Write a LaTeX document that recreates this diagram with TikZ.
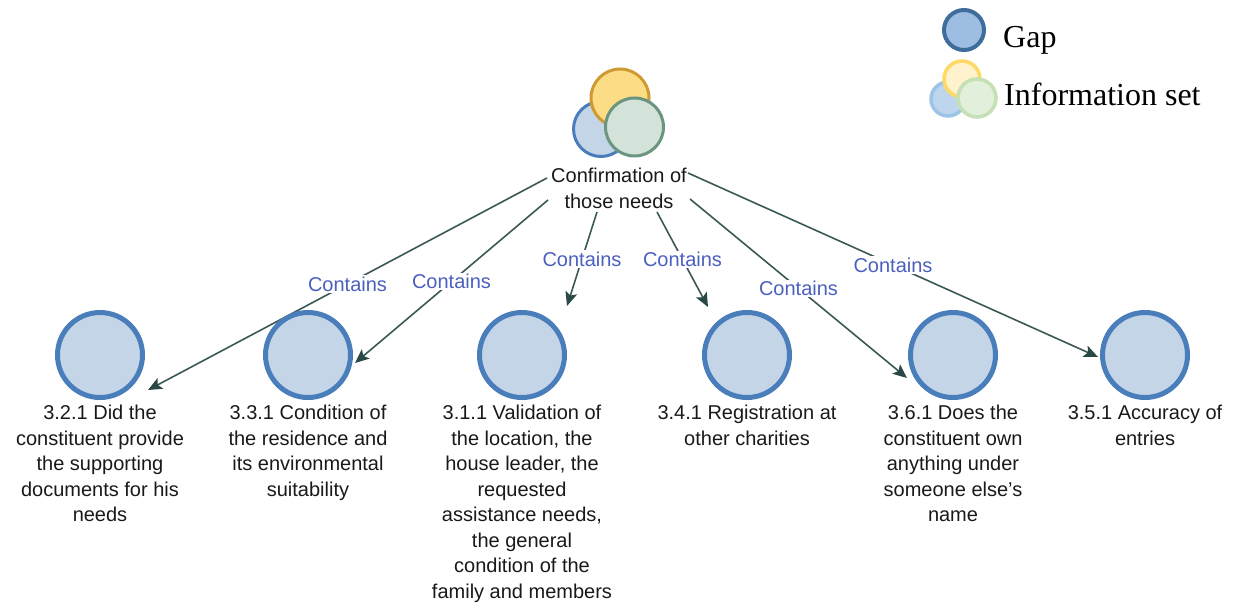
\documentclass[tikz,border=0pt]{standalone}
\usepackage{fontspec}
\setmainfont{Liberation Serif}
\newfontfamily\labfont{Liberation Sans}
\usetikzlibrary{arrows.meta}
\definecolor{gapfill}{HTML}{C5D5E8}
\definecolor{gapline}{HTML}{4A7EBB}
\definecolor{edgecol}{HTML}{3A5956}
\definecolor{tipcol}{HTML}{2A4845}
\definecolor{lblblue}{HTML}{4B60BE}
\definecolor{yelfill}{HTML}{FCDD86}
\definecolor{yelline}{HTML}{D09A32}
\definecolor{grnfill}{HTML}{D4E3DA}
\definecolor{grnline}{HTML}{6B9580}
\definecolor{lgapfill}{HTML}{9DBDE2}
\definecolor{lgapline}{HTML}{3E6D9C}
\definecolor{lbfill}{HTML}{BDD6EE}
\definecolor{lbline}{HTML}{9DC3E6}
\definecolor{lyfill}{HTML}{FFF2CC}
\definecolor{lyline}{HTML}{FFD966}
\definecolor{lgfill}{HTML}{E2EFDA}
\definecolor{lgline}{HTML}{C5E0B4}
\tikzset{
  gapnode/.style={circle, draw=gapline, fill=gapfill, line width=5pt, minimum size=85pt, inner sep=0pt},
  txt/.style={font=\labfont\fontsize{20}{25.5}\selectfont, align=center, inner sep=0pt, text=black!90},
  edge/.style={draw=edgecol, line width=1.6pt, -{Stealth[length=14pt,width=12pt,inset=3pt,color=tipcol]}},
  lbl/.style={font=\labfont\fontsize{20}{24}\selectfont, text=lblblue, fill=white, inner sep=1.5pt, midway},
  legtxt/.style={font=\fontsize{32}{36}\selectfont, anchor=west, inner sep=0pt}
}
\begin{document}
\begin{tikzpicture}[x=1pt,y=-1pt]
\useasboundingbox (0,0) rectangle (1238,604);
% start and tip coordinates
\coordinate (s1) at (547,178); \coordinate (t1) at (148,390);
\coordinate (s2) at (548,200); \coordinate (t2) at (355,363);
\coordinate (s3) at (597,212); \coordinate (t3) at (567,306);
\coordinate (s4) at (657,212); \coordinate (t4) at (708,307);
\coordinate (s5) at (690,199); \coordinate (t5) at (907,378);
\coordinate (s6) at (688,173); \coordinate (t6) at (1098,357);
% edges
\draw[edge] (s1) -- node[lbl] {Contains} (t1);
\draw[edge] (s2) -- node[lbl] {Contains} (t2);
\draw[edge] (s3) -- node[lbl] {Contains} (t3);
\draw[edge] (s4) -- node[lbl] {Contains} (t4);
\draw[edge] (s5) -- node[lbl] {Contains} (t5);
\draw[edge] (s6) -- node[lbl] {Contains} (t6);
% top information set
\node[circle, draw=gapline, fill=gapfill, line width=3pt, minimum size=55pt, inner sep=0pt] (ib) at (601,129) {};
\node[circle, draw=yelline, fill=yelfill, line width=3pt, minimum size=58pt, inner sep=0pt] (iy) at (620,98) {};
\node[circle, draw=grnline, fill=grnfill, line width=3pt, minimum size=58pt, inner sep=0pt] (ig) at (634.5,127) {};
\node[txt, anchor=north] (conf) at (619,168) {Confirmation of\\those needs};
% gaps
\node[gapnode] (g1) at (100,355) {};
\node[gapnode] (g2) at (308,355) {};
\node[gapnode] (g3) at (522,355) {};
\node[gapnode] (g4) at (747,355) {};
\node[gapnode] (g5) at (953,355) {};
\node[gapnode] (g6) at (1145,355) {};
\node[txt, anchor=north] (l1) at (100,405) {3.2.1 Did the\\constituent provide\\the supporting\\documents for his\\needs};
\node[txt, anchor=north] (l2) at (308,405) {3.3.1 Condition of\\the residence and\\its environmental\\suitability};
\node[txt, anchor=north] (l3) at (522,405) {3.1.1 Validation of\\the location, the\\house leader, the\\requested\\assistance needs,\\the general\\condition of the\\family and members};
\node[txt, anchor=north] (l4) at (747,405) {3.4.1 Registration at\\other charities};
\node[txt, anchor=north] (l5) at (953,405) {3.6.1 Does the\\constituent own\\anything under\\someone else’s\\name};
\node[txt, anchor=north] (l6) at (1145,405) {3.5.1 Accuracy of\\entries};
% legend
\node[circle, draw=lgapline, fill=lgapfill, line width=4pt, minimum size=40pt, inner sep=0pt] (lgap) at (964,30) {};
\node[legtxt] (lgaptxt) at (1003,40) {Gap};
\node[circle, draw=lbline, fill=lbfill, line width=3.5pt, minimum size=34pt, inner sep=0pt] (lb) at (948,99) {};
\node[circle, draw=lyline, fill=lyfill, line width=3.5pt, minimum size=36pt, inner sep=0pt] (ly) at (962,79) {};
\node[circle, draw=lgline, fill=lgfill, line width=3.5pt, minimum size=38pt, inner sep=0pt] (lg) at (977,98) {};
\node[legtxt] (lsettxt) at (1004,94) {Information set};
\end{tikzpicture}
\end{document}
